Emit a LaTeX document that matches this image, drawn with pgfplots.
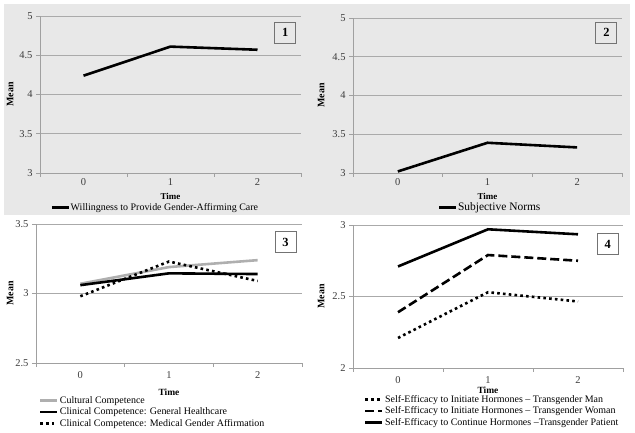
\documentclass[border=0pt]{standalone}
\usepackage{fontspec}
\setmainfont{Liberation Serif}
\usepackage{pgfplots}
\pgfplotsset{compat=1.18}
\definecolor{bggray}{RGB}{232,232,232}
\definecolor{gridgray}{RGB}{170,170,170}
\definecolor{axgray}{RGB}{160,160,160}
\definecolor{ticktext}{RGB}{60,60,60}
\definecolor{cultgray}{RGB}{175,175,175}
\tikzset{
  numbox/.style={draw=black!55, line width=0.9bp, minimum width=21bp, minimum height=21bp, inner sep=0pt, font=\bfseries\fontsize{12.5}{12.5}\selectfont},
  thickline/.style={black, line width=2.6bp},
}
\pgfplotsset{
  panel/.style={
    scale only axis,
    xmin=-0.5, xmax=2.5,
    xtick={0,1,2},
    minor xtick={-0.5,0.5,1.5,2.5},
    major x tick style={draw=none},
    tick align=outside,
    major tick length=4bp, minor tick length=4bp,
    every tick/.style={axgray, line width=0.6bp},
    axis x line*=bottom, axis y line*=left,
    axis line style={axgray, line width=0.8bp},
    ymajorgrids,
    major grid style={gridgray, line width=0.6bp},
    tick label style={font=\fontsize{10.5}{12}\selectfont, text=ticktext},
    /pgf/number format/assume math mode=true,
    xticklabel style={inner sep=1bp, yshift=-3bp},
    xlabel={Time},
    ylabel={Mean},
    xlabel style={font=\bfseries\fontsize{9.5}{10}\selectfont, inner sep=0pt},
    ylabel style={font=\bfseries\fontsize{10}{10}\selectfont},
    legend cell align=left,
    legend style={draw=none, fill=none, font=\fontsize{10}{11}\selectfont, row sep=0bp, inner sep=0pt, nodes={inner sep=1.5bp}},
    legend image code/.code={\draw[##1] (0bp,0bp) -- (17bp,0bp);},
    clip=false,
  },
}
\begin{document}
\begin{tikzpicture}
\useasboundingbox (0bp,0bp) rectangle (635bp,433bp);
\fill[bggray] (4bp,218bp) rectangle (630bp,429bp);

% Panel 1
\begin{axis}[panel, at={(40bp,260bp)}, anchor=south west, width=261bp, height=157bp,
  ymin=3, ymax=5, ytick={3,3.5,4,4.5,5},
  xticklabel style={yshift=2.5bp},
  xlabel style={at={(axis description cs:0.5,0)}, anchor=center, yshift=-23.5bp, font=\bfseries\fontsize{9}{9}\selectfont},
  ylabel style={at={(axis description cs:0,0.5)}, anchor=south, yshift=23bp},
  legend style={at={(axis description cs:0.04,-0.22)}, anchor=west, nodes={inner sep=0.5bp}}]
\addplot[thickline] coordinates {(0,4.24) (1,4.61) (2,4.57)};
\addlegendentry{Willingness to Provide Gender-Affirming Care}
\node[numbox] at (axis description cs:0.94,0.895) {1};
\end{axis}

% Panel 2
\begin{axis}[panel, at={(353bp,260bp)}, anchor=south west, width=269bp, height=155bp,
  ymin=3, ymax=5, ytick={3,3.5,4,4.5,5},
  xticklabel style={yshift=2.5bp},
  xlabel style={at={(axis description cs:0.5,0)}, anchor=center, yshift=-23.5bp, font=\bfseries\fontsize{9}{9}\selectfont},
  ylabel style={at={(axis description cs:0,0.5)}, anchor=south, yshift=25bp},
  legend style={at={(axis description cs:0.315,-0.222)}, anchor=west, font=\fontsize{11.5}{12}\selectfont, nodes={inner sep=0.5bp}}]
\addplot[thickline] coordinates {(0,3.02) (1,3.39) (2,3.33)};
\addlegendentry{Subjective Norms}
\node[numbox] at (axis description cs:0.942,0.906) {2};
\end{axis}

% Panel 3
\begin{axis}[panel, at={(36bp,70bp)}, anchor=south west, width=266bp, height=139bp,
  ymin=2.5, ymax=3.5, ytick={2.5,3,3.5},
  xlabel style={at={(axis description cs:0.5,0)}, anchor=center, yshift=-29bp},
  ylabel style={at={(axis description cs:0,0.5)}, anchor=south, yshift=19bp},
  legend style={at={(axis description cs:0.01,-0.353)}, anchor=west}]
\addplot[cultgray, line width=2.6bp] coordinates {(0,3.07) (1,3.19) (2,3.24)};
\addlegendentry{Cultural Competence}
\addplot[thickline] coordinates {(0,3.06) (1,3.145) (2,3.14)};
\addlegendentry{Clinical Competence: General Healthcare}
\addplot[black, line width=2.6bp, dash pattern=on 2.6bp off 3.2bp] coordinates {(0,2.98) (1,3.23) (2,3.09)};
\addlegendentry{Clinical Competence: Medical Gender Affirmation}
\node[numbox] at (axis description cs:0.938,0.87) {3};
\end{axis}

% Panel 4
\begin{axis}[panel, at={(353bp,65bp)}, anchor=south west, width=270bp, height=143bp,
  ymin=2, ymax=3, ytick={2,2.5,3},
  xlabel style={at={(axis description cs:0.5,0)}, anchor=center, yshift=-22bp},
  ylabel style={at={(axis description cs:0,0.5)}, anchor=south, yshift=25bp},
  legend style={at={(axis description cs:0.04,-0.30)}, anchor=west}]
\addplot[black, line width=2.6bp, dash pattern=on 2.6bp off 3.2bp] coordinates {(0,2.21) (1,2.53) (2,2.465)};
\addlegendentry{Self-Efficacy to Initiate Hormones – Transgender Man}
\addplot[black, line width=2.6bp, dash pattern=on 9bp off 4bp] coordinates {(0,2.39) (1,2.79) (2,2.75)};
\addlegendentry{Self-Efficacy to Initiate Hormones – Transgender Woman}
\addplot[thickline] coordinates {(0,2.71) (1,2.97) (2,2.935)};
\addlegendentry{Self-Efficacy to Continue Hormones –Transgender Patient}
\node[numbox] at (axis description cs:0.943,0.867) {4};
\end{axis}
\end{tikzpicture}
\end{document}
